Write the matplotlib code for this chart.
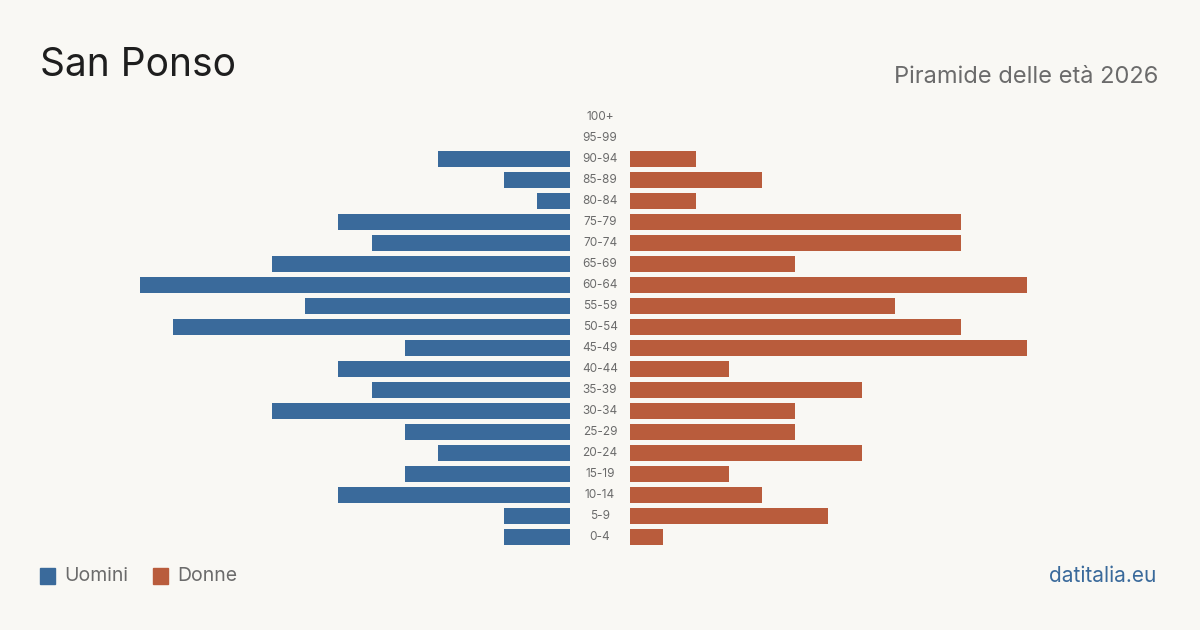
import matplotlib
matplotlib.use('Agg')
import matplotlib.pyplot as plt
from matplotlib.patches import Rectangle

# Dati: piramide delle età San Ponso 2026
fasce = ['0-4', '5-9', '10-14', '15-19', '20-24', '25-29', '30-34', '35-39',
         '40-44', '45-49', '50-54', '55-59', '60-64', '65-69', '70-74',
         '75-79', '80-84', '85-89', '90-94', '95-99', '100+']
uomini = [2, 2, 7, 5, 4, 5, 9, 6, 7, 5, 12, 8, 13, 9, 6, 7, 1, 2, 4, 0, 0]
donne = [1, 6, 4, 3, 7, 5, 5, 7, 3, 12, 10, 8, 12, 5, 10, 10, 2, 4, 2, 0, 0]

BG = '#f9f8f4'
BLU = '#3a6a9b'
ROSSO = '#b95c3c'
GRIGIO = '#6b6b6b'

plt.rcParams['font.family'] = ['Inter', 'DejaVu Sans']

W, H = 1200, 630
fig = plt.figure(figsize=(12, 6.3), dpi=100, facecolor=BG)

px_unit = 430 / 13  # pixel per persona
span = 470
xmax = span / px_unit
bottom = 1 - 547.5 / H
height = 441 / H

ax_l = fig.add_axes([(570 - span) / W, bottom, span / W, height])
ax_r = fig.add_axes([630 / W, bottom, span / W, height])

y = list(range(len(fasce)))
ax_l.barh(y, uomini, height=0.8, color=BLU)
ax_r.barh(y, donne, height=0.8, color=ROSSO)
ax_l.set_xlim(xmax, 0)
ax_r.set_xlim(0, xmax)

for ax in (ax_l, ax_r):
    ax.set_ylim(-0.5, len(fasce) - 0.5)
    ax.set_facecolor('none')
    ax.axis('off')

# etichette fasce al centro
for i, f in enumerate(fasce):
    fy = bottom + height * (i + 0.5) / len(fasce)
    fig.text(600 / W, fy, f, ha='center', va='center', fontsize=8.5, color=GRIGIO)

fig.text(40 / W, 1 - 66 / H, 'San Ponso', fontsize=28, color='#1e1e1e',
         ha='left', va='center')
fig.text(1158 / W, 1 - 77 / H, 'Piramide delle età 2026', fontsize=17,
         color=GRIGIO, ha='right', va='center')

# legenda
fig.patches.append(Rectangle((40 / W, 1 - 584 / H), 15 / W, 16 / H,
                             transform=fig.transFigure, color=BLU))
fig.text(64 / W, 1 - 576 / H, 'Uomini', fontsize=14, color=GRIGIO, va='center')
fig.patches.append(Rectangle((153 / W, 1 - 584 / H), 15 / W, 16 / H,
                             transform=fig.transFigure, color=ROSSO))
fig.text(177 / W, 1 - 576 / H, 'Donne', fontsize=14, color=GRIGIO, va='center')

fig.text(1156 / W, 1 - 576 / H, 'datitalia.eu', fontsize=15, color=BLU,
         ha='right', va='center')

fig.savefig('out.png', dpi=100, facecolor=BG)
